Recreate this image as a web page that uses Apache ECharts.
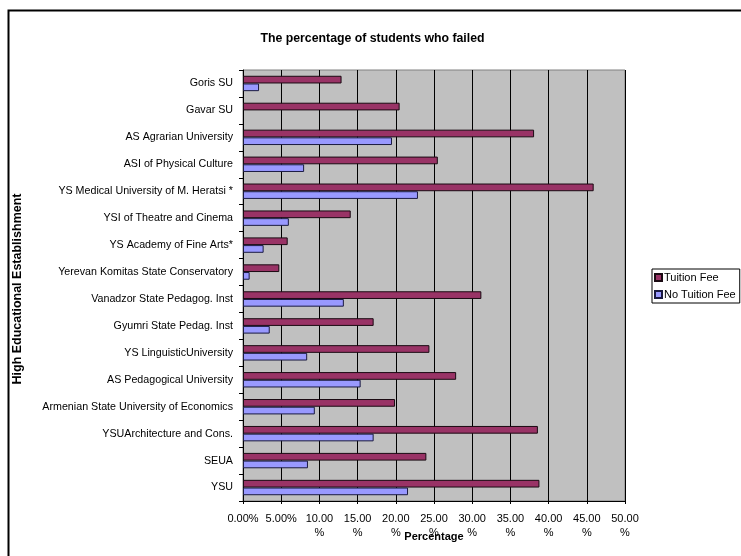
<!DOCTYPE html>
<html>
<head>
<meta charset="utf-8">
<script src="https://cdn.jsdelivr.net/npm/echarts@6/dist/echarts.min.js"></script>
<style>
html,body{margin:0;padding:0;background:#fff;}
#chart{width:741px;height:556px;}
</style>
</head>
<body>
<div id="chart"></div>
<script>
const categories = [
  'YSU',
  'SEUA',
  'YSUArchitecture and Cons.',
  'Armenian State University of Economics',
  'AS Pedagogical University',
  'YS LinguisticUniversity',
  'Gyumri State Pedag. Inst',
  'Vanadzor State Pedagog. Inst',
  'Yerevan Komitas State Conservatory',
  'YS Academy of Fine Arts*',
  'YSI of Theatre and Cinema',
  'YS Medical University of M. Heratsi *',
  'ASI of Physical Culture',
  'AS Agrarian University',
  'Gavar SU',
  'Goris SU'
];
const tuitionFee = [38.8, 24.0, 38.6, 19.9, 27.9, 24.4, 17.1, 31.2, 4.75, 5.85, 14.1, 45.9, 25.5, 38.1, 20.5, 12.9];
const noTuitionFee = [21.6, 8.5, 17.1, 9.4, 15.4, 8.4, 3.5, 13.2, 0.87, 2.7, 6.0, 22.9, 8.0, 19.5, null, 2.1];
const seriesNames = ['Tuition Fee', 'No Tuition Fee'];
const titleText = 'The percentage of students who failed';
const xAxisTitle = 'Percentage';
const yAxisTitle = 'High Educational Establishment';

const font = 'Liberation Sans, Arial, sans-serif';
const chart = echarts.init(document.getElementById('chart'), null, {renderer: 'canvas'});
chart.setOption({
  animation: false,
  backgroundColor: '#ffffff',
  textStyle: {fontFamily: font, color: '#000'},
  graphic: [{
    type: 'rect', silent: true, z: -1,
    shape: {x: 8.5, y: 10.5, width: 800, height: 600},
    style: {fill: 'none', stroke: '#000', lineWidth: 2}
  }, {
    type: 'text', x: 372.5, y: 39,
    style: {text: titleText, x: 0, y: 0, align: 'center', verticalAlign: 'middle',
            font: 'bold 12.3px ' + font, fill: '#000'}
  }, {
    type: 'text', x: 18, y: 289,
    rotation: Math.PI / 2,
    style: {text: yAxisTitle, x: 0, y: 0, align: 'center', verticalAlign: 'middle',
            font: 'bold 12.5px ' + font, fill: '#000'}
  }],
  legend: {
    orient: 'vertical',
    left: 652, top: 269,
    itemWidth: 7, itemHeight: 7, itemGap: 6,
    icon: 'rect',
    borderColor: '#000', borderWidth: 1,
    padding: [3, 4, 3, 2],
    textStyle: {fontFamily: font, fontSize: 11, color: '#000', padding: [0, 0, 0, -3]},
    data: seriesNames
  },
  grid: {
    left: 243, top: 70, width: 382, height: 431,
    outerBoundsMode: 'none',
    show: true, backgroundColor: '#c0c0c0', borderColor: '#808080', borderWidth: 1
  },
  xAxis: {
    type: 'value', min: 0, max: 50, interval: 5,
    name: xAxisTitle, nameLocation: 'middle', nameGap: 36, nameMoveOverlap: false,
    nameTextStyle: {fontFamily: font, fontSize: 11, fontWeight: 'bold', color: '#000', verticalAlign: 'middle'},
    axisLine: {show: true, lineStyle: {color: '#000'}},
    axisTick: {show: true, length: 3, lineStyle: {color: '#000'}},
    axisLabel: {
      fontFamily: font, fontSize: 11, color: '#000', margin: 11, lineHeight: 14,
      formatter: function (v) { return v < 10 ? v.toFixed(2) + '%' : v.toFixed(2) + '\n%'; }
    },
    splitLine: {show: true, lineStyle: {color: '#000', width: 1}}
  },
  yAxis: {
    type: 'category', data: categories,
    axisLine: {show: true, lineStyle: {color: '#000'}},
    axisTick: {show: true, length: 4, lineStyle: {color: '#000'}},
    axisLabel: {fontFamily: font, fontSize: 10.7, color: '#000', margin: 10},
    splitLine: {show: false}
  },
  series: [{
    name: seriesNames[0], type: 'bar', data: tuitionFee,
    barWidth: 7.7, barGap: '0%',
    itemStyle: {color: '#993366', borderColor: '#1a0a12', borderWidth: 1}
  }, {
    name: seriesNames[1], type: 'bar', data: noTuitionFee,
    barWidth: 7.7, barGap: '0%',
    itemStyle: {color: '#9999ff', borderColor: '#1a1a40', borderWidth: 1}
  }]
});
</script>
</body>
</html>
